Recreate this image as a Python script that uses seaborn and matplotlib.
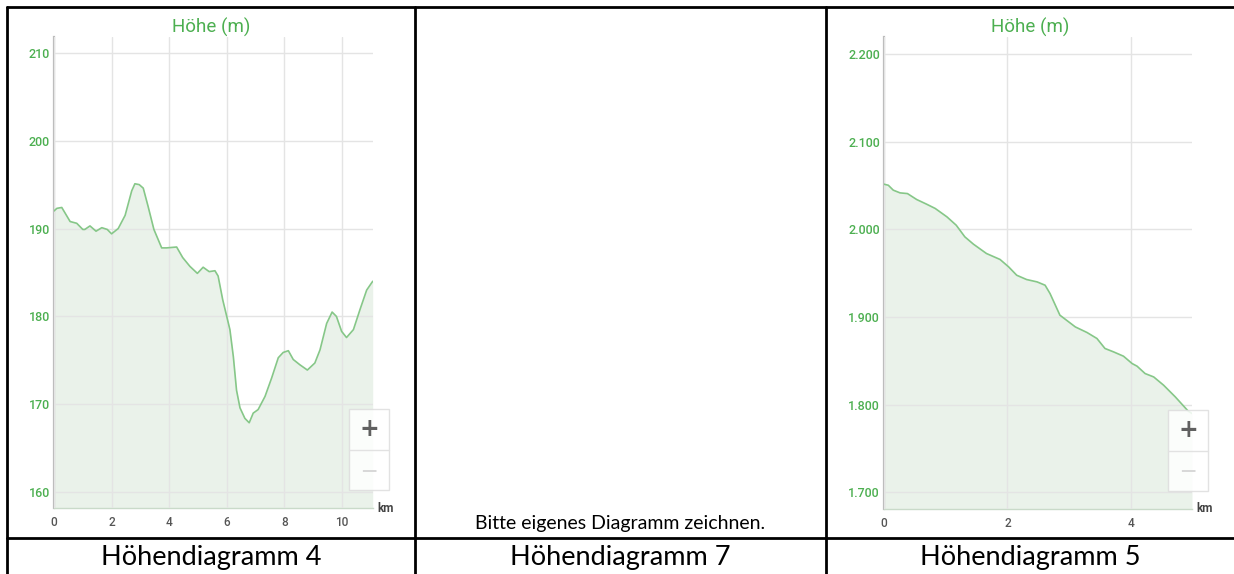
import numpy as np
import pandas as pd
import matplotlib.pyplot as plt
import seaborn as sns
from matplotlib.lines import Line2D
from matplotlib.patches import Rectangle

# ── Data ──────────────────────────────────────────────────────
km_4 = [0.0, 0.1, 0.27, 0.56, 0.79, 1.0, 1.07, 1.25, 1.46, 1.66, 1.85, 2.0,
        2.23, 2.47, 2.70, 2.81, 2.96, 3.10, 3.27, 3.47, 3.74, 3.91, 4.26,
        4.47, 4.72, 4.98, 5.18, 5.39, 5.59, 5.70, 5.86, 6.0, 6.11, 6.23,
        6.34, 6.46, 6.63, 6.78, 6.92, 7.09, 7.33, 7.56, 7.79, 7.96, 8.14,
        8.31, 8.54, 8.80, 9.06, 9.24, 9.47, 9.66, 9.81, 9.99, 10.16, 10.40,
        10.63, 10.86, 11.07]
hoehe_4 = [192.0, 192.3, 192.4, 190.8, 190.6, 189.9, 189.9, 190.3, 189.7,
           190.1, 189.9, 189.4, 190.0, 191.5, 194.3, 195.1, 195.0, 194.6,
           192.5, 189.9, 187.8, 187.8, 187.9, 186.7, 185.7, 184.9, 185.6,
           185.1, 185.2, 184.6, 181.9, 180.0, 178.5, 175.4, 171.6, 169.6,
           168.4, 167.9, 169.0, 169.4, 170.9, 173.0, 175.3, 175.9, 176.1,
           175.1, 174.5, 173.9, 174.7, 176.2, 179.2, 180.5, 180.0, 178.3,
           177.6, 178.5, 180.8, 183.0, 184.0]

km_5 = [0.0, 0.07, 0.15, 0.26, 0.38, 0.53, 0.69, 0.83, 1.02, 1.17, 1.31,
        1.45, 1.66, 1.88, 2.02, 2.15, 2.31, 2.48, 2.61, 2.69, 2.85, 3.10,
        3.29, 3.45, 3.58, 3.72, 3.88, 4.02, 4.10, 4.23, 4.37, 4.53, 4.72,
        4.93, 4.99]
hoehe_5 = [2051.7, 2050.5, 2044.9, 2041.8, 2041.0, 2034.2, 2028.9, 2024.0,
           2014.4, 2004.9, 1991.6, 1983.2, 1972.6, 1965.8, 1957.3, 1947.8,
           1942.9, 1940.2, 1936.4, 1926.9, 1902.2, 1888.8, 1882.4, 1875.6,
           1864.2, 1860.3, 1855.4, 1847.0, 1844.0, 1835.6, 1831.7, 1822.3,
           1808.9, 1792.6, 1790.0]

yticks_4 = [160, 170, 180, 190, 200, 210]
ylabels_4 = ['160', '170', '180', '190', '200', '210']
xticks_4 = [0, 2, 4, 6, 8, 10]

yticks_5 = [1700, 1800, 1900, 2000, 2100, 2200]
ylabels_5 = ['1.700', '1.800', '1.900', '2.000', '2.100', '2.200']
xticks_5 = [0, 2, 4]

cell_labels = ['Höhendiagramm 4', 'Höhendiagramm 7', 'Höhendiagramm 5']
hint_text = 'Bitte eigenes Diagramm zeichnen.'

# ── Style ─────────────────────────────────────────────────────
sns.set_style("white")
plt.rcParams['font.family'] = ['Roboto', 'DejaVu Sans']

GREEN = '#4caf50'
LINE = '#86c788'
FILL = '#eaf2ea'
GRID = '#e4e4e4'

W, H = 1234, 574
fig = plt.figure(figsize=(W / 100, H / 100), dpi=100)


def px_box(x0, y0, x1, y1):
    # pixel box (top-left origin) -> figure fraction rect
    return [x0 / W, 1 - y1 / H, (x1 - x0) / W, (y1 - y0) / H]


def draw_profile(rect, km, hoehe, xticks, yticks, ylabels, xlim, ylim):
    ax = fig.add_axes(rect)
    df = pd.DataFrame({'km': km, 'hoehe': hoehe})
    ax.fill_between(df['km'], df['hoehe'], ylim[0], color=FILL, zorder=1, lw=0)
    sns.lineplot(data=df, x='km', y='hoehe', ax=ax, color=LINE, lw=1.2,
                 zorder=3)
    ax.set_xlim(*xlim)
    ax.set_ylim(*ylim)
    ax.set_xticks(xticks)
    ax.set_yticks(yticks)
    ax.set_yticklabels(ylabels)
    ax.set_xlabel('')
    ax.set_ylabel('')
    ax.set_axisbelow(False)
    ax.grid(True, color=GRID, lw=1, zorder=2)
    for s in ['top', 'right']:
        ax.spines[s].set_visible(False)
    ax.spines['left'].set_color('#bdbdbd')
    ax.spines['left'].set_linewidth(1.6)
    ax.spines['bottom'].set_color('#c9dac9')
    ax.spines['bottom'].set_linewidth(1.0)
    ax.tick_params(axis='y', length=0, pad=3, labelsize=9, labelcolor=GREEN)
    ax.tick_params(axis='x', length=0, pad=6, labelsize=8.5, labelcolor='#555555')
    for lab in ax.get_yticklabels() + ax.get_xticklabels():
        lab.set_fontweight('medium')
    ax.annotate('km', xy=(1, 0), xycoords='axes fraction', xytext=(13, 0),
                textcoords='offset pixels', ha='center', va='center',
                fontsize=8.5, color='#444444', fontweight='bold')
    return ax


def zoom_buttons(x0, y0):
    # the +/- map control drawn over the chart
    w, h = 40, 81
    fig.add_artist(Rectangle((x0 / W, 1 - (y0 + h) / H), w / W, h / H,
                             transform=fig.transFigure, facecolor='white',
                             edgecolor='#dddddd', lw=1, alpha=0.85, zorder=5))
    fig.add_artist(Line2D([x0 / W, (x0 + w) / W],
                          [1 - (y0 + h / 2) / H, 1 - (y0 + h / 2) / H],
                          color='#e2e2e2', lw=1, zorder=6))
    fig.text((x0 + w / 2) / W, 1 - (y0 + 20) / H, '+', ha='center', va='center',
             fontsize=17, fontweight='bold', color='#606060', zorder=7,
             family='DejaVu Sans')
    fig.text((x0 + w / 2) / W, 1 - (y0 + 61) / H, '—', ha='center', va='center',
             fontsize=11, fontweight='bold', color='#d8d8d8', zorder=7,
             family='DejaVu Sans')


# Left chart
draw_profile(px_box(54, 37, 373, 508), km_4, hoehe_4, xticks_4, yticks_4,
             ylabels_4, (0, 11.08), (158.2, 211.8))
fig.text(211 / W, 1 - 27 / H, 'Höhe (m)', ha='center', va='center',
         fontsize=13.5, color=GREEN)
zoom_buttons(349, 409)

# Right chart
draw_profile(px_box(884, 37, 1192, 509), km_5, hoehe_5, xticks_5, yticks_5,
             ylabels_5, (0, 4.99), (1681, 2219.7))
fig.text(1030 / W, 1 - 27 / H, 'Höhe (m)', ha='center', va='center',
         fontsize=13.5, color=GREEN)
zoom_buttons(1168, 410)

# ── Table frame ───────────────────────────────────────────────
frame = [([7, 1234], [7, 7]), ([7, 7], [7, 574]), ([415, 415], [7, 574]),
         ([826, 826], [7, 574]), ([7, 1234], [538, 538])]
for xs, ys in frame:
    fig.add_artist(Line2D([x / W for x in xs], [1 - y / H for y in ys],
                          color='black', lw=2, zorder=10))

fig.text(620 / W, 1 - 524 / H, hint_text, ha='center', va='center',
         fontsize=14, color='black', family=['Lato', 'DejaVu Sans'])
for cx, label in zip([211, 620, 1030], cell_labels):
    fig.text(cx / W, 1 - 558 / H, label, ha='center', va='center',
             fontsize=19.5, color='black', family=['Lato', 'DejaVu Sans'])

fig.savefig('out.png', dpi=100)
